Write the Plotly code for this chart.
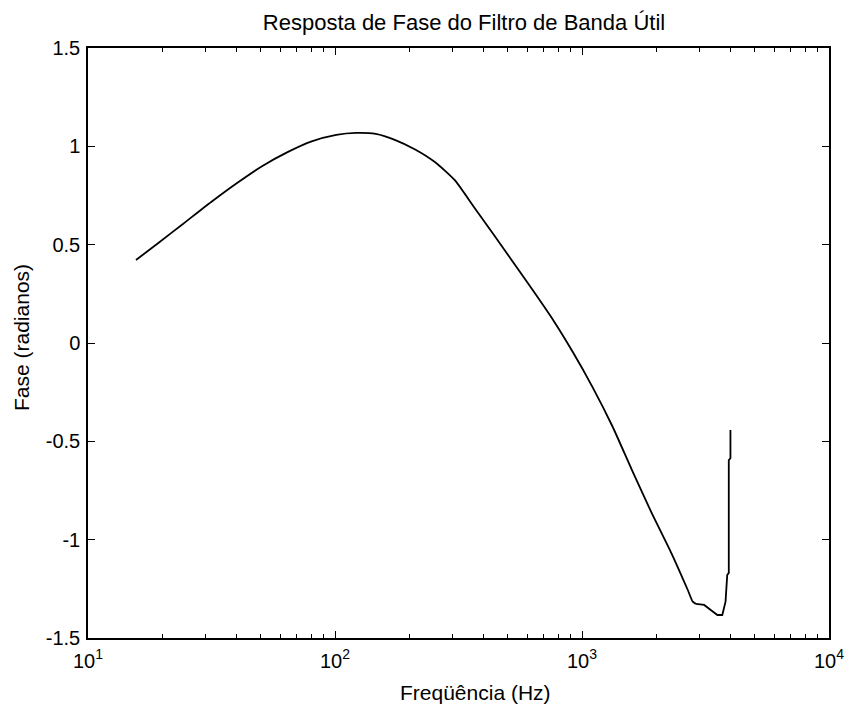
import plotly.graph_objects as go

# Phase response of the useful-band filter (frequency in Hz, phase in radians)
# Main smooth portion of the response
freq_main = [15.64, 19.38, 24.38, 31.53, 40.41, 50.84, 63.96, 80.46, 101.2,
             121.7, 146.2, 175.6, 211.1, 253.7, 304.8, 366.3, 440.1, 528.9,
             635.6, 763.8, 917.8, 1103, 1326, 1593, 1914, 2300, 2681, 2807,
             2894]
phase_main = [0.422, 0.511, 0.608, 0.717, 0.816, 0.900, 0.969, 1.025, 1.058,
              1.068, 1.063, 1.032, 0.984, 0.920, 0.829, 0.689, 0.549, 0.407,
              0.264, 0.117, -0.046, -0.224, -0.422, -0.646, -0.864, -1.068,
              -1.256, -1.315, -1.327]
# Tail near the upper band edge, where the phase jumps
freq_tail = [2894, 3123, 3321, 3532, 3698, 3812, 3872, 3929, 3929, 3990, 3990]
phase_tail = [-1.327, -1.332, -1.358, -1.383, -1.383, -1.315, -1.180, -1.169,
              -0.595, -0.586, -0.442]

x_major = [10, 100, 1000, 10000]
x_major_text = ["10<sup>1</sup>", "10<sup>2</sup>", "10<sup>3</sup>", "10<sup>4</sup>"]
x_minor = [m * d for d in (10, 100, 1000) for m in range(2, 10)]
y_ticks = [-1.5, -1, -0.5, 0, 0.5, 1, 1.5]
y_text = ["-1.5", "-1", "-0.5", "0", "0.5", "1", "1.5"]

font = "Liberation Sans, Arial, sans-serif"
line_style = dict(color="black", width=1.8)

W, H = 856, 707

fig = go.Figure()
fig.add_trace(go.Scatter(x=freq_main, y=phase_main, mode="lines",
                         line=dict(shape="spline", smoothing=0.6, **line_style)))
fig.add_trace(go.Scatter(x=freq_tail, y=phase_tail, mode="lines",
                         line=line_style))
# invisible trace on the minor-tick axis keeps that axis drawn
fig.add_trace(go.Scatter(x=[10, 10000], y=[0, 0], xaxis="x2", mode="lines",
                         line=dict(width=0), hoverinfo="skip", opacity=0))

fig.update_layout(
    width=W, height=H,
    margin=dict(l=88, r=16, t=48, b=69),
    paper_bgcolor="white", plot_bgcolor="white",
    showlegend=False,
    font=dict(family=font, size=20, color="black"),
    title=dict(text="Resposta de Fase do Filtro de Banda Útil",
               x=(88 + 840) / 2 / W, xanchor="center",
               y=1 - 22 / H, yanchor="middle",
               font=dict(family=font, size=22, color="black")),
    xaxis=dict(
        type="log", range=[1, 4],
        tickmode="array", tickvals=x_major, ticktext=x_major_text,
        ticks="inside", ticklen=7, tickwidth=1.2, tickcolor="black",
        showline=True, linecolor="black", linewidth=1.5, mirror="ticks",
        showgrid=False, zeroline=False,
        tickfont=dict(size=20), ticklabelstandoff=4,
    ),
    # secondary log axis that only carries the minor decade ticks
    xaxis2=dict(
        type="log", range=[1, 4], overlaying="x", side="bottom",
        tickmode="array", tickvals=x_minor, showticklabels=False,
        ticks="inside", ticklen=4, tickwidth=1.2, tickcolor="black",
        showline=False, mirror="ticks", showgrid=False, zeroline=False,
    ),
    yaxis=dict(
        range=[-1.5, 1.5],
        tickmode="array", tickvals=y_ticks, ticktext=y_text,
        ticks="inside", ticklen=7, tickwidth=1.2, tickcolor="black",
        showline=True, linecolor="black", linewidth=1.5, mirror="ticks",
        showgrid=False, zeroline=False,
        tickfont=dict(size=20), ticklabelstandoff=2,
    ),
    annotations=[
        dict(text="Freqüência (Hz)", xref="paper", yref="paper",
             x=(481 - 88) / (840 - 88), y=-(692 - 638) / (638 - 48),
             xanchor="center", yanchor="middle", showarrow=False,
             font=dict(size=21)),
        dict(text="Fase (radianos)", xref="paper", yref="paper",
             x=-(88 - 20) / (840 - 88), y=(638 - 337) / (638 - 48),
             xanchor="center", yanchor="middle", textangle=-90,
             showarrow=False, font=dict(size=21)),
    ],
)

fig.write_html("out.html")
